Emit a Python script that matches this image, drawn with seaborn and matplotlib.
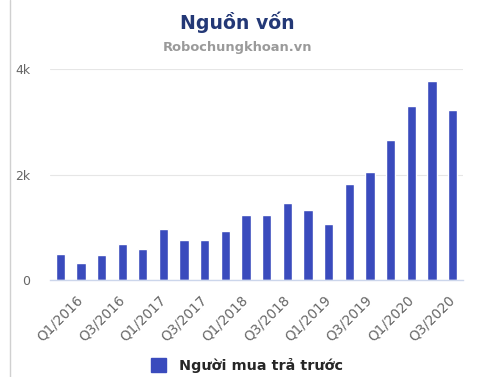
import pandas as pd
import seaborn as sns
import matplotlib.pyplot as plt
from matplotlib.lines import Line2D
from matplotlib.patches import Patch

# quarters and values
quarters = ["Q1/2016", "Q2/2016", "Q3/2016", "Q4/2016",
            "Q1/2017", "Q2/2017", "Q3/2017", "Q4/2017",
            "Q1/2018", "Q2/2018", "Q3/2018", "Q4/2018",
            "Q1/2019", "Q2/2019", "Q3/2019", "Q4/2019",
            "Q1/2020", "Q2/2020", "Q3/2020", "Q4/2020"]
values = [490, 330, 475, 680, 595, 970, 765, 765, 930, 1240,
          1240, 1465, 1340, 1070, 1815, 2055, 2655, 3305, 3775, 3225]
y_ticks = [0, 2000, 4000]
y_tick_labels = ["0", "2k", "4k"]

df = pd.DataFrame({"quarter": quarters, "value": values})

sns.set_style("white")
plt.rcParams['font.family'] = ['DejaVu Sans']

fig = plt.figure(figsize=(4.94, 3.77), dpi=100)
ax = fig.add_axes([0.101, 0.257, 0.836, 0.559])

bar_color = "#3a4bbd"
sns.barplot(data=df, x="quarter", y="value", color=bar_color, width=0.45,
            saturation=1, ax=ax)

ax.set_ylim(0, 4000)
ax.set_xlim(-0.5, len(quarters) - 0.5)
ax.set_yticks(y_ticks)
ax.set_yticklabels(y_tick_labels, fontsize=9, color="#666666")
ax.set_xticks(range(0, len(quarters), 2))
ax.set_xticklabels(quarters[::2], rotation=45, ha="center", va="top",
                   fontsize=9.8, color="#666666")
ax.tick_params(axis="y", length=0, pad=14)
ax.tick_params(axis="x", length=0, pad=9)
ax.set_xlabel("")
ax.set_ylabel("")
ax.grid(axis="y", color="#e6e6e6", linewidth=0.8)
ax.set_axisbelow(True)
for s in ["top", "right", "left"]:
    ax.spines[s].set_visible(False)
ax.spines["bottom"].set_color("#ccd6eb")
ax.spines["bottom"].set_linewidth(1)

# title and subtitle
fig.text(0.48, 0.94, "Nguồn vốn", ha="center", va="center", fontsize=13.6,
         fontweight="bold", color="#233876")
fig.text(0.48, 0.875, "Robochungkhoan.vn", ha="center", va="center",
         fontsize=9.4, fontweight="bold", color="#9a9a9a")

# legend at bottom
handle = Patch(facecolor=bar_color, edgecolor=bar_color)
fig.legend([handle], ["Người mua trả trước"], loc="center",
           bbox_to_anchor=(0.5, 0.03), frameon=False, handlelength=1.1,
           handleheight=1.1, handletextpad=0.9,
           prop={"weight": "bold", "size": 10.4})

# thin frame line on the left edge
fig.add_artist(Line2D([0.02, 0.02], [0, 1], color="#d0d0d0", linewidth=1))

fig.savefig("out.png", dpi=100)
